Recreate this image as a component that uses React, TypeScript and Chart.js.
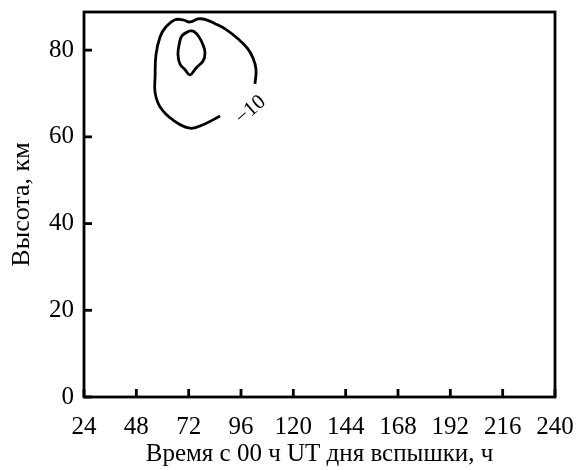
import React, { useEffect, useRef } from "react";
import { Chart, registerables } from "chart.js";

Chart.register(...registerables);

// Axis ticks
const xTickValues = [24, 48, 72, 96, 120, 144, 168, 192, 216, 240];
const yTickValues = [0, 20, 40, 60, 80];

// Outer (open) contour, level −10
const outerX = [86.4, 78.6, 72.6, 64.8, 58.9, 56.6, 56.6, 57.0, 58.9, 61.6, 65.7, 69.4, 72.6, 76.3, 79.5, 84.1, 88.7, 94.2, 98.8, 101.5, 102.9, 102.4];
const outerY = [64.8, 62.8, 62.0, 63.9, 66.9, 70.2, 73.8, 78.9, 83.1, 85.4, 87.0, 87.0, 86.5, 87.2, 87.1, 86.1, 84.9, 82.8, 80.5, 78.2, 75.5, 72.2];

// Inner (closed) contour
const innerX = [72.6, 68.9, 67.6, 67.1, 68.0, 70.3, 72.6, 75.4, 78.6, 79.5, 78.6, 76.7, 74.4, 72.6];
const innerY = [84.5, 83.3, 81.2, 79.0, 76.8, 75.5, 74.3, 75.9, 77.5, 79.4, 81.2, 83.1, 84.3, 84.5];

// Contour label
const contourLabelText = ["\u221210"];
const contourLabelX = [100.4];
const contourLabelY = [66.2];

const FONT = "'Liberation Serif', 'Times New Roman', serif";

const framePlugin = {
  id: "frame",
  afterDraw(chart: any) {
    const { ctx, chartArea: a, scales } = chart;
    const xs = scales.x;
    const ys = scales.y;
    ctx.save();
    ctx.strokeStyle = "#000";
    ctx.lineWidth = 2.8;
    ctx.strokeRect(a.left, a.top, a.right - a.left, a.bottom - a.top);
    xs.ticks.forEach((t: any) => {
      const px = xs.getPixelForValue(t.value);
      ctx.beginPath();
      ctx.moveTo(px, a.bottom);
      ctx.lineTo(px, a.bottom - 8);
      ctx.stroke();
    });
    ys.ticks.forEach((t: any) => {
      const py = ys.getPixelForValue(t.value);
      ctx.beginPath();
      ctx.moveTo(a.left, py);
      ctx.lineTo(a.left + 8, py);
      ctx.stroke();
    });
    // contour labels
    ctx.fillStyle = "#000";
    ctx.font = `21px ${FONT}`;
    ctx.textAlign = "center";
    ctx.textBaseline = "middle";
    contourLabelText.forEach((txt, i) => {
      const px = xs.getPixelForValue(contourLabelX[i]);
      const py = ys.getPixelForValue(contourLabelY[i]);
      ctx.save();
      ctx.translate(px, py);
      ctx.rotate(-0.72);
      ctx.fillText(txt, 0, 0);
      ctx.restore();
    });
    ctx.restore();
  },
};

function toPts(xs: number[], ys: number[]) {
  return xs.map((x, i) => ({ x, y: ys[i] }));
}

export default function App() {
  const ref = useRef<HTMLCanvasElement | null>(null);
  useEffect(() => {
    if (!ref.current) return;
    const lineStyle = {
      showLine: true,
      borderColor: "#000",
      borderWidth: 2.8,
      pointRadius: 0,
      tension: 0.4,
      fill: false,
    };
    const chart = new Chart(ref.current, {
      type: "scatter",
      data: {
        datasets: [
          { ...lineStyle, data: toPts(outerX, outerY) },
          { ...lineStyle, data: toPts(innerX, innerY) },
        ],
      },
      options: {
        animation: false,
        responsive: true,
        maintainAspectRatio: false,
        layout: { padding: { top: 12, right: 21, left: 0, bottom: 0 } },
        plugins: {
          legend: { display: false },
          tooltip: { enabled: false },
        },
        scales: {
          x: {
            type: "linear",
            min: 24,
            max: 240,
            afterBuildTicks: (s: any) => {
              s.ticks = xTickValues.map((v) => ({ value: v }));
            },
            afterFit: (s: any) => {
              s.height = 73;
              s.paddingLeft = 0;
              s.paddingRight = 0;
            },
            grid: { display: false, drawTicks: false },
            border: { display: false },
            ticks: {
              color: "#000",
              font: { family: FONT, size: 25 },
              padding: 15,
              maxRotation: 0,
            },
            title: {
              display: true,
              text: "Время с 00 ч UT дня вспышки, ч",
              color: "#000",
              font: { family: FONT, size: 25 },
              padding: { top: 0, bottom: 1 },
            },
          },
          y: {
            type: "linear",
            min: 0,
            max: 88.8,
            afterBuildTicks: (s: any) => {
              s.ticks = yTickValues.map((v) => ({ value: v }));
            },
            afterFit: (s: any) => {
              s.width = 84;
              s.paddingTop = 0;
              s.paddingBottom = 0;
            },
            grid: { display: false, drawTicks: false },
            border: { display: false },
            ticks: {
              color: "#000",
              font: { family: FONT, size: 25 },
              padding: 10,
            },
            title: {
              display: true,
              text: "Высота, км",
              color: "#000",
              font: { family: FONT, size: 26 },
              padding: { top: 7, bottom: 0 },
            },
          },
        },
      },
      plugins: [framePlugin],
    });
    return () => chart.destroy();
  }, []);
  return (
    <div style={{ position: "fixed", left: 0, top: 0, width: 576, height: 470, background: "#fff" }}>
      <canvas ref={ref} />
    </div>
  );
}
